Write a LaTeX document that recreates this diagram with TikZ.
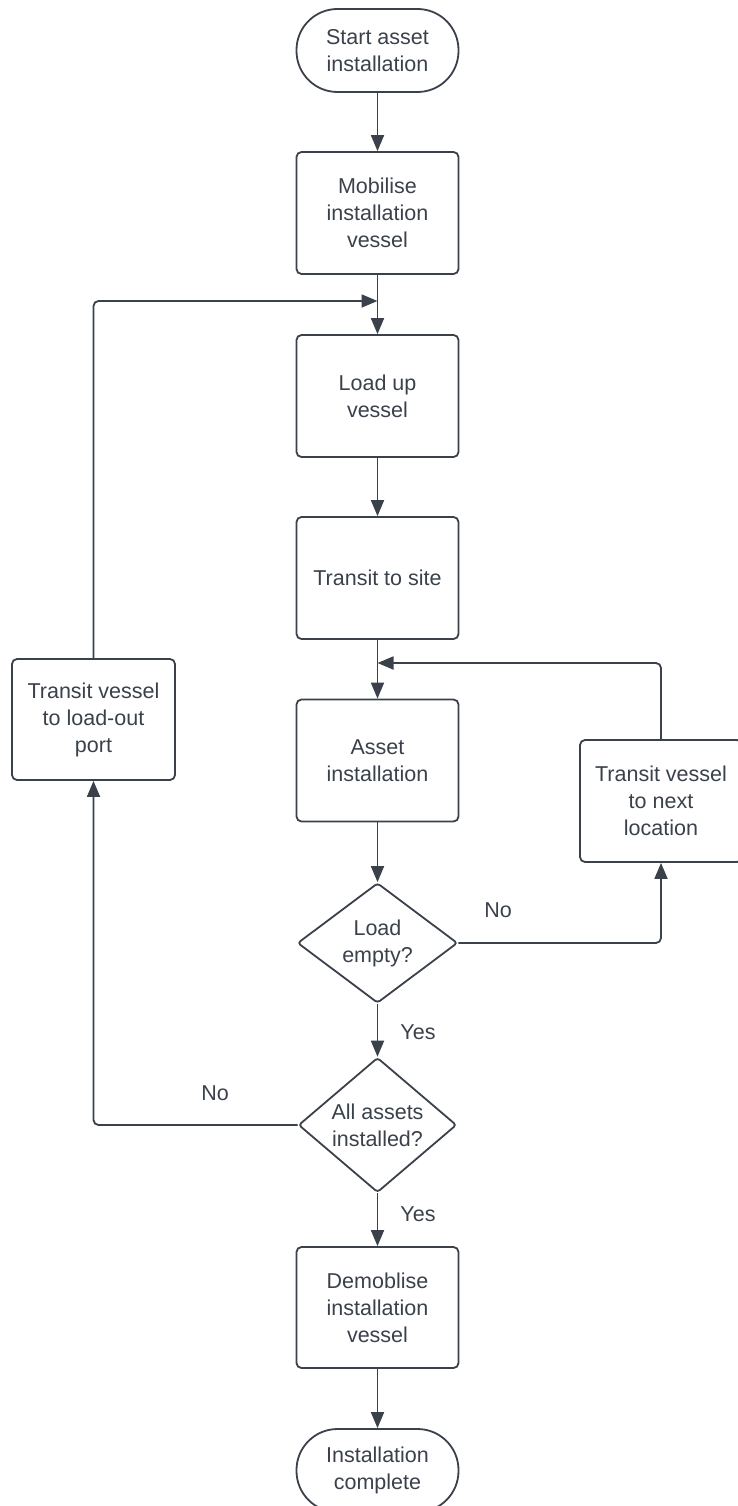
\documentclass[tikz,border=0pt]{standalone}
\usepackage{fontspec}
\setmainfont{Liberation Sans}
\usetikzlibrary{arrows.meta,shapes.geometric}
\definecolor{lc}{RGB}{58,65,74}
\begin{document}
\begin{tikzpicture}[x=1pt,y=-1pt,
  every node/.style={text=lc,font=\fontsize{21.5}{27}\selectfont,align=center},
  procbox/.style={draw=lc,line width=1.8pt,rounded corners=5pt,minimum width=162pt,minimum height=122pt,inner sep=0pt},
  termbox/.style={draw=lc,line width=1.8pt,rounded corners=41pt,minimum width=162pt,minimum height=83pt,inner sep=0pt},
  decbox/.style={draw=lc,line width=1.8pt,diamond,rounded corners=3pt,minimum width=160pt,minimum height=120pt,inner sep=0pt},
  conn/.style={draw=lc,line width=1.8pt,rounded corners=5pt},
  arr/.style={conn,-{Triangle[length=16pt,width=13pt]}},
  lbl/.style={inner sep=0pt}]
\useasboundingbox (0,0) rectangle (738,1506);
\node[termbox] (start) at (377.5,50.5) {Start asset\\installation};
\node[procbox] (mob) at (377.5,213) {Mobilise\\installation\\vessel};
\node[procbox] (load) at (377.5,396) {Load up\\vessel};
\node[procbox] (site) at (377.5,578) {Transit to site};
\node[procbox] (asset) at (377.5,760.5) {Asset\\installation};
\node[decbox] (empty) at (377.5,943) {Load\\empty?};
\node[procbox] (next) at (661,801) {Transit vessel\\to next\\location};
\node[decbox,minimum width=158pt,minimum height=118pt] (allq) at (377.5,1125) {All assets\\installed?};
\node[procbox,minimum width=163pt,minimum height=121pt] (port) at (93.5,719.5) {Transit vessel\\to load-out\\port};
\node[procbox,minimum height=121pt] (demob) at (377.5,1307.5) {Demoblise\\installation\\vessel};
\node[termbox] (complete) at (377.5,1470.5) {Installation\\complete};
\coordinate (j1) at (377.5,301);
\coordinate (j2) at (377.5,663);
\node[lbl] (no1) at (498,910) {No};
\node[lbl] (yes1) at (418,1032) {Yes};
\node[lbl] (no2) at (215,1093) {No};
\node[lbl] (yes2) at (418,1214) {Yes};
\draw[arr] (start.south) -- (mob.north);
\draw[arr] (mob.south) -- (load.north);
\draw[arr] (load.south) -- (site.north);
\draw[arr] (site.south) -- (asset.north);
\draw[arr] (asset.south) -- (empty.north);
\draw[arr] (empty.east) -| (next.south);
\draw[arr] (next.north) |- (j2);
\draw[arr] (empty.south) -- (allq.north);
\draw[arr] (allq.west) -| (port.south);
\draw[arr] (port.north) |- (j1);
\draw[arr] (allq.south) -- (demob.north);
\draw[arr] (demob.south) -- (complete.north);
\end{tikzpicture}
\end{document}
